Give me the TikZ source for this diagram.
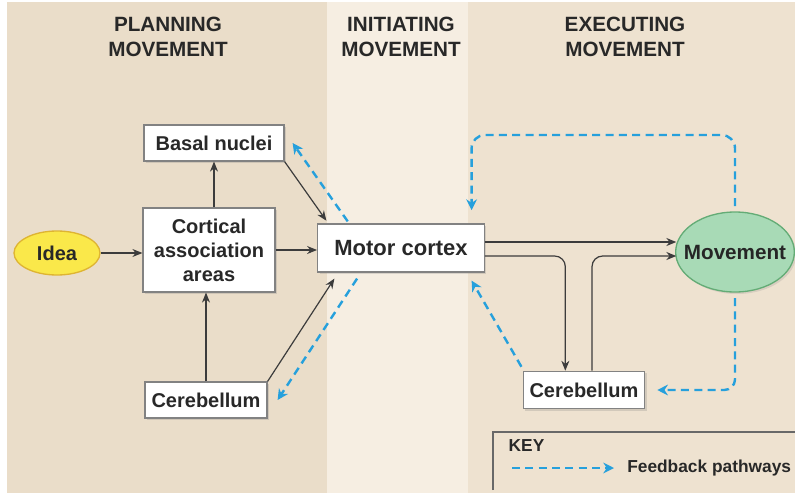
\documentclass[tikz,border=0pt]{standalone}
\usepackage{fontspec}
\setmainfont{Liberation Sans}
\usetikzlibrary{arrows.meta,shadows,shapes.geometric}
\definecolor{panelL}{RGB}{234,221,201}
\definecolor{panelM}{RGB}{246,238,226}
\definecolor{panelR}{RGB}{238,226,208}
\definecolor{fbblue}{RGB}{38,160,220}
\definecolor{arrgray}{RGB}{60,60,60}
\definecolor{boxgray}{RGB}{130,130,130}
\definecolor{ideafill}{RGB}{250,232,74}
\definecolor{ideadraw}{RGB}{222,180,50}
\definecolor{movfill}{RGB}{168,218,182}
\definecolor{movdraw}{RGB}{100,172,118}
\definecolor{titlegray}{RGB}{40,40,40}
\tikzset{
  boxnode/.style={draw=boxgray, line width=0.9pt, fill=white, inner sep=0pt,
    font=\bfseries\fontsize{15}{18}\selectfont, text=titlegray, align=center,
    drop shadow={opacity=0.25, shadow xshift=1.5pt, shadow yshift=-1.5pt}},
  title/.style={font=\bfseries\fontsize{15.5}{18.75}\selectfont, text=titlegray, align=center},
  arr/.style={draw=arrgray, line width=0.9pt, -{Stealth[length=7.5pt,width=6pt]}},
  fb/.style={draw=fbblue, line width=1.8pt, dash pattern=on 6pt off 4pt,
    -{Stealth[length=8pt,width=8pt]}}
}
\begin{document}
\begin{tikzpicture}[x=0.75pt,y=-0.75pt]
\useasboundingbox (0,0) rectangle (795,496);
\fill[white] (0,0) rectangle (795,496);
\fill[panelL] (7,2) rectangle (327,493);
\fill[panelM] (327,2) rectangle (468,493);
\fill[panelR] (468,2) rectangle (795,493);

\node[title] (tp) at (168,37) {PLANNING\\MOVEMENT};
\node[title] (ti) at (401,37) {INITIATING\\MOVEMENT};
\node[title] (te) at (625,37) {EXECUTING\\MOVEMENT};

\node[ellipse, draw=ideadraw, line width=1pt, fill=ideafill, inner xsep=-2pt, inner ysep=0pt,
  minimum width=64.5pt, minimum height=33pt,
  font=\bfseries\fontsize{15}{18}\selectfont, text=titlegray] (idea) at (57,253) {Idea};
\node[boxnode, minimum width=99pt, minimum height=63pt] (cort) at (209,250) {Cortical\\association\\areas};
\node[boxnode, minimum width=105pt, minimum height=27pt] (basal) at (214,143) {Basal nuclei};
\node[boxnode, minimum width=91.5pt, minimum height=27pt] (cerL) at (206,400) {Cerebellum};
\node[boxnode, minimum width=125pt, minimum height=36pt, font=\bfseries\fontsize{16.5}{20}\selectfont] (motor) at (401,248) {Motor cortex};
\node[ellipse, draw=movdraw, line width=1pt, fill=movfill, inner xsep=-7pt, inner ysep=0pt,
  minimum width=89pt, minimum height=60pt,
  font=\bfseries\fontsize{15.5}{18}\selectfont, text=black!85,
  drop shadow={opacity=0.2, shadow xshift=1.5pt, shadow yshift=-1.5pt}] (mov) at (735,252) {Movement};
\node[boxnode, minimum width=91pt, minimum height=28pt] (cerR) at (584,390) {Cerebellum};

% planning arrows
\draw[arr] (idea.east) -- (cort.west |- idea.east);
\draw[arr] (cort.east) -- (cort.east -| motor.west);
\draw[arr] (cort.north -| basal.south) -- (basal.south);
\draw[arr] (cerL.north) -- (cerL.north |- cort.south);
\draw[arr] (basal.south east) -- ([xshift=7pt,yshift=2pt]motor.north west);
\draw[arr] (cerL.north east) -- ([xshift=13pt,yshift=-4.5pt]motor.south west);
\draw[fb] ([xshift=23pt,yshift=1.5pt]motor.north west) -- ([xshift=6pt]basal.east);
\draw[fb] ([xshift=30pt,yshift=-4.5pt]motor.south west) -- ([xshift=7.5pt]cerL.east);

% executing arrows
\coordinate (m1) at ([yshift=4.5pt]motor.east);
\coordinate (m2) at ([yshift=-6pt]motor.east);
\coordinate (c1) at ([xshift=-14pt]cerR.north);
\coordinate (c2) at ([xshift=6pt]cerR.north);
\draw[arr] (m1) -- ([xshift=1pt]m1 -| mov.west);
\draw[arr, rounded corners=8pt] (m2) -| (c1);
\draw[arr, rounded corners=8pt] (c2) |- ([xshift=1pt]m2 -| mov.west);

\coordinate (t1) at ([xshift=-10pt,yshift=10pt]motor.north east);
\coordinate (topy) at (0,135);
\draw[fb, rounded corners=10pt] ([yshift=4pt]mov.north) |- (topy -| t1) -- (t1);
\draw[fb, rounded corners=8pt] ([yshift=-4pt]mov.south) |- ([xshift=9pt]cerR.east);
\draw[fb] ([xshift=-1pt,yshift=3pt]cerR.north west) -- ([xshift=-10pt,yshift=-6pt]motor.south east);

% key
\coordinate (k0) at (493,490);
\coordinate (k1) at (800,432);
\draw[boxgray!80!black, line width=1pt] (k0) |- (k1);
\node[anchor=west, font=\bfseries\fontsize{13}{15}\selectfont, text=titlegray] (key) at (504,446) {KEY};
\coordinate (ka) at (512,468);
\coordinate (kb) at (614,468);
\draw[fb] (ka) -- (kb);
\node[anchor=west, font=\bfseries\fontsize{13}{15}\selectfont, text=titlegray, inner sep=0pt] (kt) at (627,468) {Feedback pathways};
\end{tikzpicture}
\end{document}
